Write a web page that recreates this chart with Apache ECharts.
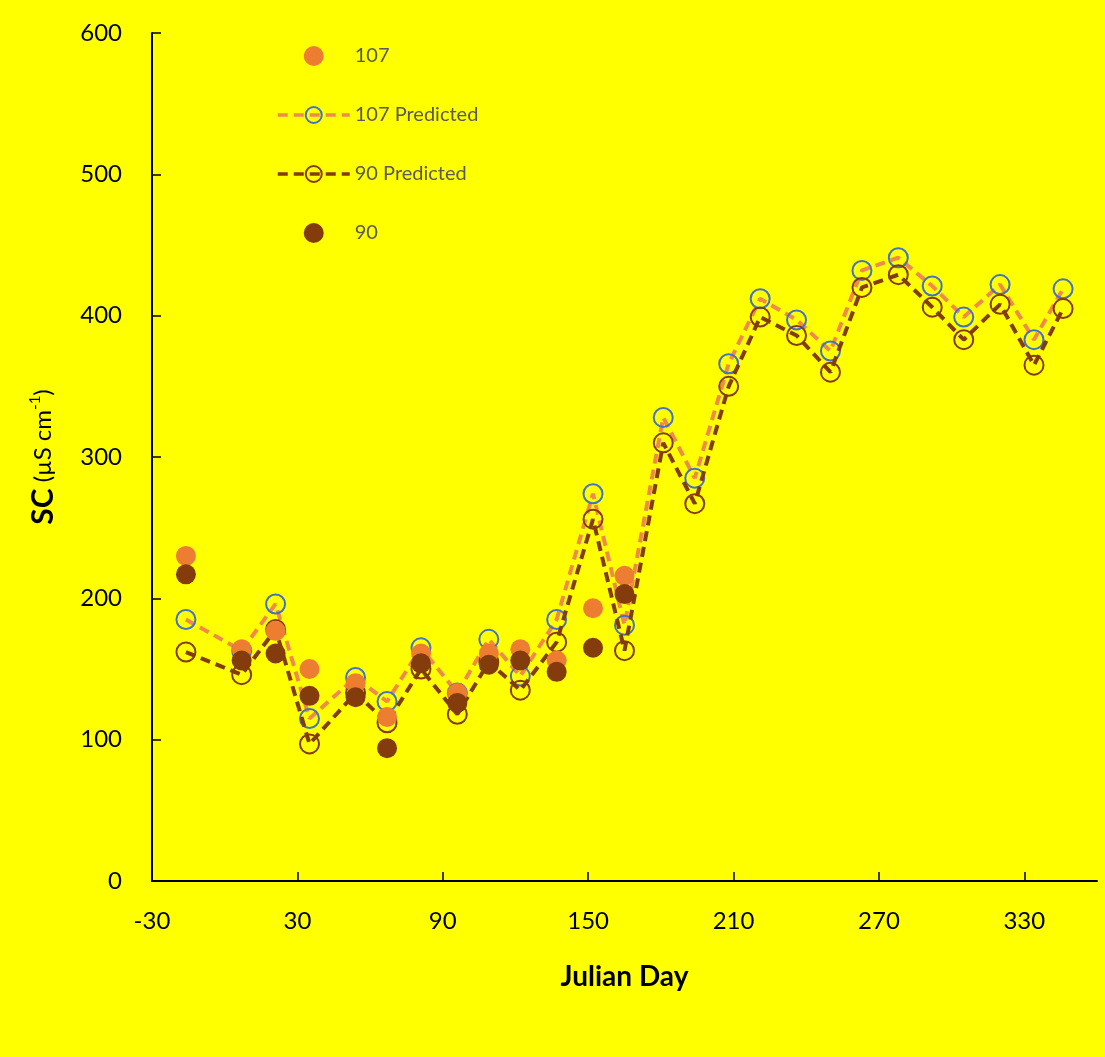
<!DOCTYPE html>
<html>
<head>
<meta charset="utf-8">
<script src="https://cdn.jsdelivr.net/npm/echarts@6/dist/echarts.min.js"></script>
<style>
html,body{margin:0;padding:0;background:#FFFF00;}
#c{width:1105px;height:1057px;}
</style>
</head>
<body>
<div id="c"></div>
<script>
// Julian days of sampling
var days = [-16, 7, 21, 35, 54, 67, 81, 96, 109, 122, 137, 152, 165, 181, 194, 208, 221, 236, 250, 263, 278, 292, 305, 320, 334, 346];
// Observed SC (only through day 165)
var obs107 = [230, 164, 177, 150, 140, 116, 161, 133, 161, 164, 156, 193, 216];
var obs90  = [217, 156, 161, 131, 130, 94, 154, 126, 153, 156, 148, 165, 203];
// Predicted SC
var pred107 = [185, 163, 196, 115, 144, 127, 165, 133, 171, 145, 185, 274, 181, 328, 285, 366, 412, 397, 375, 432, 441, 421, 399, 422, 383, 419];
var pred90  = [162, 146, 178, 97, 133, 112, 150, 118, 155, 135, 169, 256, 163, 310, 267, 350, 399, 386, 360, 420, 429, 406, 383, 408, 365, 405];
var xTicks = [-30, 30, 90, 150, 210, 270, 330];

function pairs(vals){ return vals.map(function(v,i){ return [days[i], v]; }); }

var chart = echarts.init(document.getElementById('c'));
var font = 'Lato, "Open Sans", sans-serif';
chart.setOption({
  backgroundColor: '#FFFF00',
  animation: false,
  grid: {left: 152, right: 8, top: 33, bottom: 176, containLabel: false},
  legend: {
    left: 271, top: 41, orient: 'vertical',
    itemWidth: 72, itemHeight: 20, itemGap: 39,
    lineStyle: {width: 3.5},
    textStyle: {color: '#595959', fontSize: 20, fontFamily: font},
    data: ['107', '107 Predicted', '90 Predicted', '90']
  },
  xAxis: {
    type: 'value', min: -30, max: 360, interval: 60,
    name: 'Julian Day', nameLocation: 'middle', nameGap: 82,
    nameTextStyle: {fontSize: 28, fontWeight: 'bold', color: '#000', fontFamily: font},
    axisLine: {show: true, onZero: false, lineStyle: {color: '#000', width: 2}},
    axisTick: {show: true, inside: true, length: 9, lineStyle: {color: '#000', width: 1.5}},
    axisLabel: {fontSize: 24, color: '#000', margin: 28, fontFamily: font,
      showMaxLabel: false},
    splitLine: {show: false}
  },
  yAxis: {
    type: 'value', min: 0, max: 600, interval: 100,
    name: '{b|SC}{n| (µS cm}{s|-1}{n|)}', nameLocation: 'middle', nameGap: 94, nameRotate: 90,
    nameTextStyle: {
      color: '#000', fontFamily: font,
      rich: {
        b: {fontSize: 30, fontWeight: 'bold', color: '#000', fontFamily: font},
        n: {fontSize: 24, color: '#000', fontFamily: font},
        s: {fontSize: 15, color: '#000', fontFamily: font, padding: [0, 0, 15, 0]}
      }
    },
    axisLine: {show: true, onZero: false, lineStyle: {color: '#000', width: 2}},
    axisTick: {show: true, inside: true, length: 9, lineStyle: {color: '#000', width: 1.5}},
    axisLabel: {fontSize: 24, color: '#000', margin: 30, fontFamily: font},
    splitLine: {show: false}
  },
  series: [
    {
      name: '107 Predicted', type: 'line', data: pairs(pred107),
      symbol: 'circle', symbolSize: 19,
      itemStyle: {color: 'rgba(0,0,0,0)', borderColor: '#4472C4', borderWidth: 2},
      lineStyle: {color: '#F08A4B', width: 4, type: [10, 6]},
      z: 2
    },
    {
      name: '90 Predicted', type: 'line', data: pairs(pred90),
      symbol: 'circle', symbolSize: 19,
      itemStyle: {color: 'rgba(0,0,0,0)', borderColor: '#843C0C', borderWidth: 2},
      lineStyle: {color: '#843C0C', width: 4, type: [10, 6]},
      z: 3
    },
    {
      name: '107', type: 'scatter', data: pairs(obs107),
      symbol: 'circle', symbolSize: 20,
      itemStyle: {color: '#ED7D31', opacity: 1},
      z: 4
    },
    {
      name: '90', type: 'scatter', data: pairs(obs90),
      symbol: 'circle', symbolSize: 20,
      itemStyle: {color: '#843C0C', opacity: 1},
      z: 5
    }
  ]
});
</script>
</body>
</html>
